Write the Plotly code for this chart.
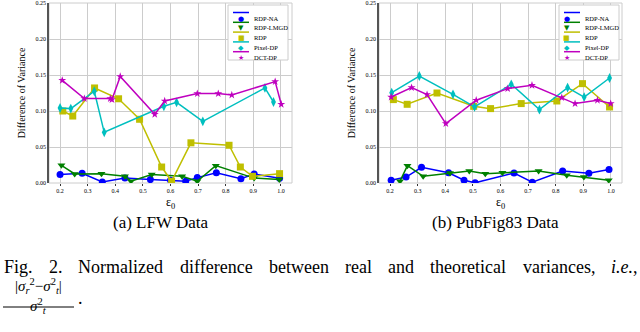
import plotly.graph_objects as go
from plotly.subplots import make_subplots

names = ["RDP-NA", "RDP-LMGD", "RDP", "Pixel-DP", "DCT-DP"]
colors = ["#0000ff", "#008000", "#bfbf00", "#00bfbf", "#bf00bf"]
symbols = ["circle", "triangle-down", "square", "diamond-tall", "star"]
glyphs = ["●", "▼", "■", "◆", "★"]
msizes = [7, 7, 7, 7, 6]

# LFW data
lfw_na_x = [0.200, 0.280, 0.353, 0.435, 0.527, 0.600, 0.655, 0.697, 0.766, 0.855, 0.903, 0.995]
lfw_na_y = [0.0117, 0.0135, 0.0014, 0.0068, 0.0047, 0.0038, 0.0026, 0.0075, 0.0143, 0.0060, 0.0125, 0.0065]
lfw_lm_x = [0.205, 0.253, 0.350, 0.435, 0.457, 0.532, 0.642, 0.697, 0.764, 0.903, 0.994]
lfw_lm_y = [0.0246, 0.0125, 0.0130, 0.0093, 0.0026, 0.0118, 0.0093, 0.0024, 0.0241, 0.0068, 0.0049]
lfw_rdp_x = [0.210, 0.246, 0.325, 0.412, 0.488, 0.568, 0.604, 0.674, 0.812, 0.853, 0.897, 0.995]
lfw_rdp_y = [0.1000, 0.0930, 0.1320, 0.1170, 0.0885, 0.0222, 0.0024, 0.0558, 0.0524, 0.0222, 0.0093, 0.0130]
lfw_pix_x = [0.200, 0.239, 0.324, 0.360, 0.576, 0.622, 0.717, 0.942, 0.973]
lfw_pix_y = [0.1042, 0.1033, 0.1274, 0.0704, 0.1065, 0.1121, 0.0857, 0.1320, 0.1125]
lfw_dct_x = [0.208, 0.288, 0.382, 0.388, 0.418, 0.543, 0.579, 0.697, 0.773, 0.822, 0.979, 1.001]
lfw_dct_y = [0.1426, 0.1172, 0.1172, 0.1158, 0.1480, 0.0954, 0.1139, 0.1242, 0.1242, 0.1222, 0.1408, 0.1093]

# PubFig83 data
pf_na_x = [0.204, 0.258, 0.314, 0.412, 0.468, 0.508, 0.649, 0.715, 0.825, 0.920, 0.993]
pf_na_y = [0.0038, 0.0083, 0.0218, 0.0142, 0.0038, 0.0003, 0.0139, 0.0012, 0.0167, 0.0135, 0.0186]
pf_lm_x = [0.236, 0.263, 0.320, 0.417, 0.487, 0.545, 0.607, 0.738, 0.840, 0.902, 0.992]
pf_lm_y = [0.0026, 0.0241, 0.0093, 0.0139, 0.0167, 0.0130, 0.0143, 0.0167, 0.0107, 0.0083, 0.0038]
pf_rdp_x = [0.212, 0.262, 0.370, 0.503, 0.564, 0.675, 0.804, 0.897, 0.995]
pf_rdp_y = [0.1158, 0.1093, 0.1250, 0.1065, 0.1033, 0.1103, 0.1139, 0.1380, 0.1056]
pf_pix_x = [0.206, 0.306, 0.428, 0.506, 0.639, 0.741, 0.843, 0.903, 0.995]
pf_pix_y = [0.1255, 0.1486, 0.1232, 0.1056, 0.1371, 0.1019, 0.1325, 0.1194, 0.1458]
pf_dct_x = [0.204, 0.278, 0.334, 0.402, 0.512, 0.626, 0.714, 0.822, 0.870, 0.951, 0.999]
pf_dct_y = [0.1194, 0.1325, 0.1228, 0.0825, 0.1149, 0.1311, 0.1357, 0.1186, 0.1103, 0.1149, 0.1103]

x_ticks = [0.2, 0.3, 0.4, 0.5, 0.6, 0.7, 0.8, 0.9, 1.0]
y_ticks = [0.0, 0.05, 0.10, 0.15, 0.20, 0.25]

lfw = [(lfw_na_x, lfw_na_y), (lfw_lm_x, lfw_lm_y), (lfw_rdp_x, lfw_rdp_y),
       (lfw_pix_x, lfw_pix_y), (lfw_dct_x, lfw_dct_y)]
pf = [(pf_na_x, pf_na_y), (pf_lm_x, pf_lm_y), (pf_rdp_x, pf_rdp_y),
      (pf_pix_x, pf_pix_y), (pf_dct_x, pf_dct_y)]

W, H = 640, 332
serif = "Liberation Serif"


def px(x):
    return x / W


def py(y):
    return 1 - y / H


fig = make_subplots(rows=1, cols=2)

for col, data in [(1, lfw), (2, pf)]:
    for i, (xs, ys) in enumerate(data):
        fig.add_trace(go.Scatter(
            x=xs, y=ys, mode="lines+markers", name=names[i], showlegend=False,
            line=dict(color=colors[i], width=1.5),
            marker=dict(symbol=symbols[i], size=msizes[i], color=colors[i])),
            row=1, col=col)

fig.update_layout(
    width=W, height=H, margin=dict(l=0, r=0, t=0, b=0, autoexpand=False),
    paper_bgcolor="white", plot_bgcolor="white",
    font=dict(family=serif, color="black"),
    xaxis=dict(domain=[px(49), px(292)]),
    xaxis2=dict(domain=[px(379), px(622)]),
    yaxis=dict(domain=[py(183), py(3)]),
    yaxis2=dict(domain=[py(183), py(3)]),
)

fig.update_xaxes(range=[0.16, 1.04], tickvals=x_ticks, tickformat=".1f", automargin=False,
                 showgrid=True, gridcolor="#cccccc", gridwidth=1, zeroline=False,
                 ticks="outside", ticklen=2, tickcolor="#333", tickfont=dict(size=6),
                 title=dict(text="ε<sub>0</sub>", font=dict(size=12), standoff=4))
fig.update_yaxes(range=[0, 0.25], tickvals=y_ticks, tickformat=".2f", automargin=False,
                 showgrid=True, gridcolor="#cccccc", gridwidth=1, zeroline=False,
                 showline=True, linecolor="#555555", linewidth=1.5,
                 ticks="", tickfont=dict(size=6),
                 title=dict(text="Difference of Variance", font=dict(size=10), standoff=8))

for xr, yr in [("x domain", "y domain"), ("x2 domain", "y2 domain")]:
    fig.add_shape(type="rect", xref=xr, yref=yr, x0=0, x1=1, y0=0, y1=1,
                  line=dict(color="#cccccc", width=1), layer="below")

# hand-made legends (plotly's own legend rows are too tall for this size)
for right in [288, 619]:
    left = right - 60
    fig.add_shape(type="rect", xref="paper", yref="paper", x0=px(left), x1=px(right),
                  y0=py(60), y1=py(5), fillcolor="white", line=dict(color="#cccccc", width=1))
    for i, name in enumerate(names):
        yy = 12.5 + i * 9.8
        fig.add_shape(type="line", xref="paper", yref="paper", x0=px(left + 5), x1=px(left + 21),
                      y0=py(yy), y1=py(yy), line=dict(color=colors[i], width=1.5))
        fig.add_annotation(text=glyphs[i], x=px(left + 13), y=py(yy), xref="paper", yref="paper",
                           showarrow=False, font=dict(size=7, color=colors[i], family="DejaVu Sans"))
        fig.add_annotation(text=name, x=px(left + 24), y=py(yy), xref="paper", yref="paper",
                           xanchor="left", showarrow=False, font=dict(size=6.5, family=serif))

fig.add_annotation(text="(a) LFW Data", x=px(160), y=py(234), xref="paper", yref="paper",
                   xanchor="center", showarrow=False, font=dict(size=17, family=serif))
fig.add_annotation(text="(b) PubFig83 Data", x=px(495), y=py(234), xref="paper", yref="paper",
                   xanchor="center", showarrow=False, font=dict(size=17, family=serif))

# caption, placed word by word to mimic justified text
words = [("Fig.", 2), ("2.", 47), ("Normalized", 76), ("difference", 178), ("between", 267),
         ("real", 343), ("and", 386), ("theoretical", 428), ("variances,", 521), ("<i>i.e.</i>,", 609)]
for w, x0 in words:
    fig.add_annotation(text=w, x=px(x0), y=py(279), xref="paper", yref="paper",
                       xanchor="left", showarrow=False, font=dict(size=18, family=serif))

fig.add_annotation(text="|<i>σ<sub>r</sub></i><sup>2</sup>−<i>σ</i><sup>2</sup><sub><i>t</i></sub>|",
                   x=px(38), y=py(298), xref="paper", yref="paper", xanchor="center",
                   showarrow=False, font=dict(size=15, family=serif))
fig.add_shape(type="line", xref="paper", yref="paper", x0=px(3), x1=px(74),
              y0=py(307), y1=py(307), line=dict(color="black", width=1))
fig.add_annotation(text="<i>σ</i><sup>2</sup><sub><i>t</i></sub>", x=px(38), y=py(318),
                   xref="paper", yref="paper", xanchor="center", showarrow=False,
                   font=dict(size=15, family=serif))
fig.add_annotation(text=".", x=px(80), y=py(310), xref="paper", yref="paper",
                   xanchor="center", showarrow=False, font=dict(size=18, family=serif))

# the page body has a default 8px margin; remove it so the figure fills the window
fig.write_html("out.html", config={"displayModeBar": False},
               post_script="document.body.style.margin='0px';")
